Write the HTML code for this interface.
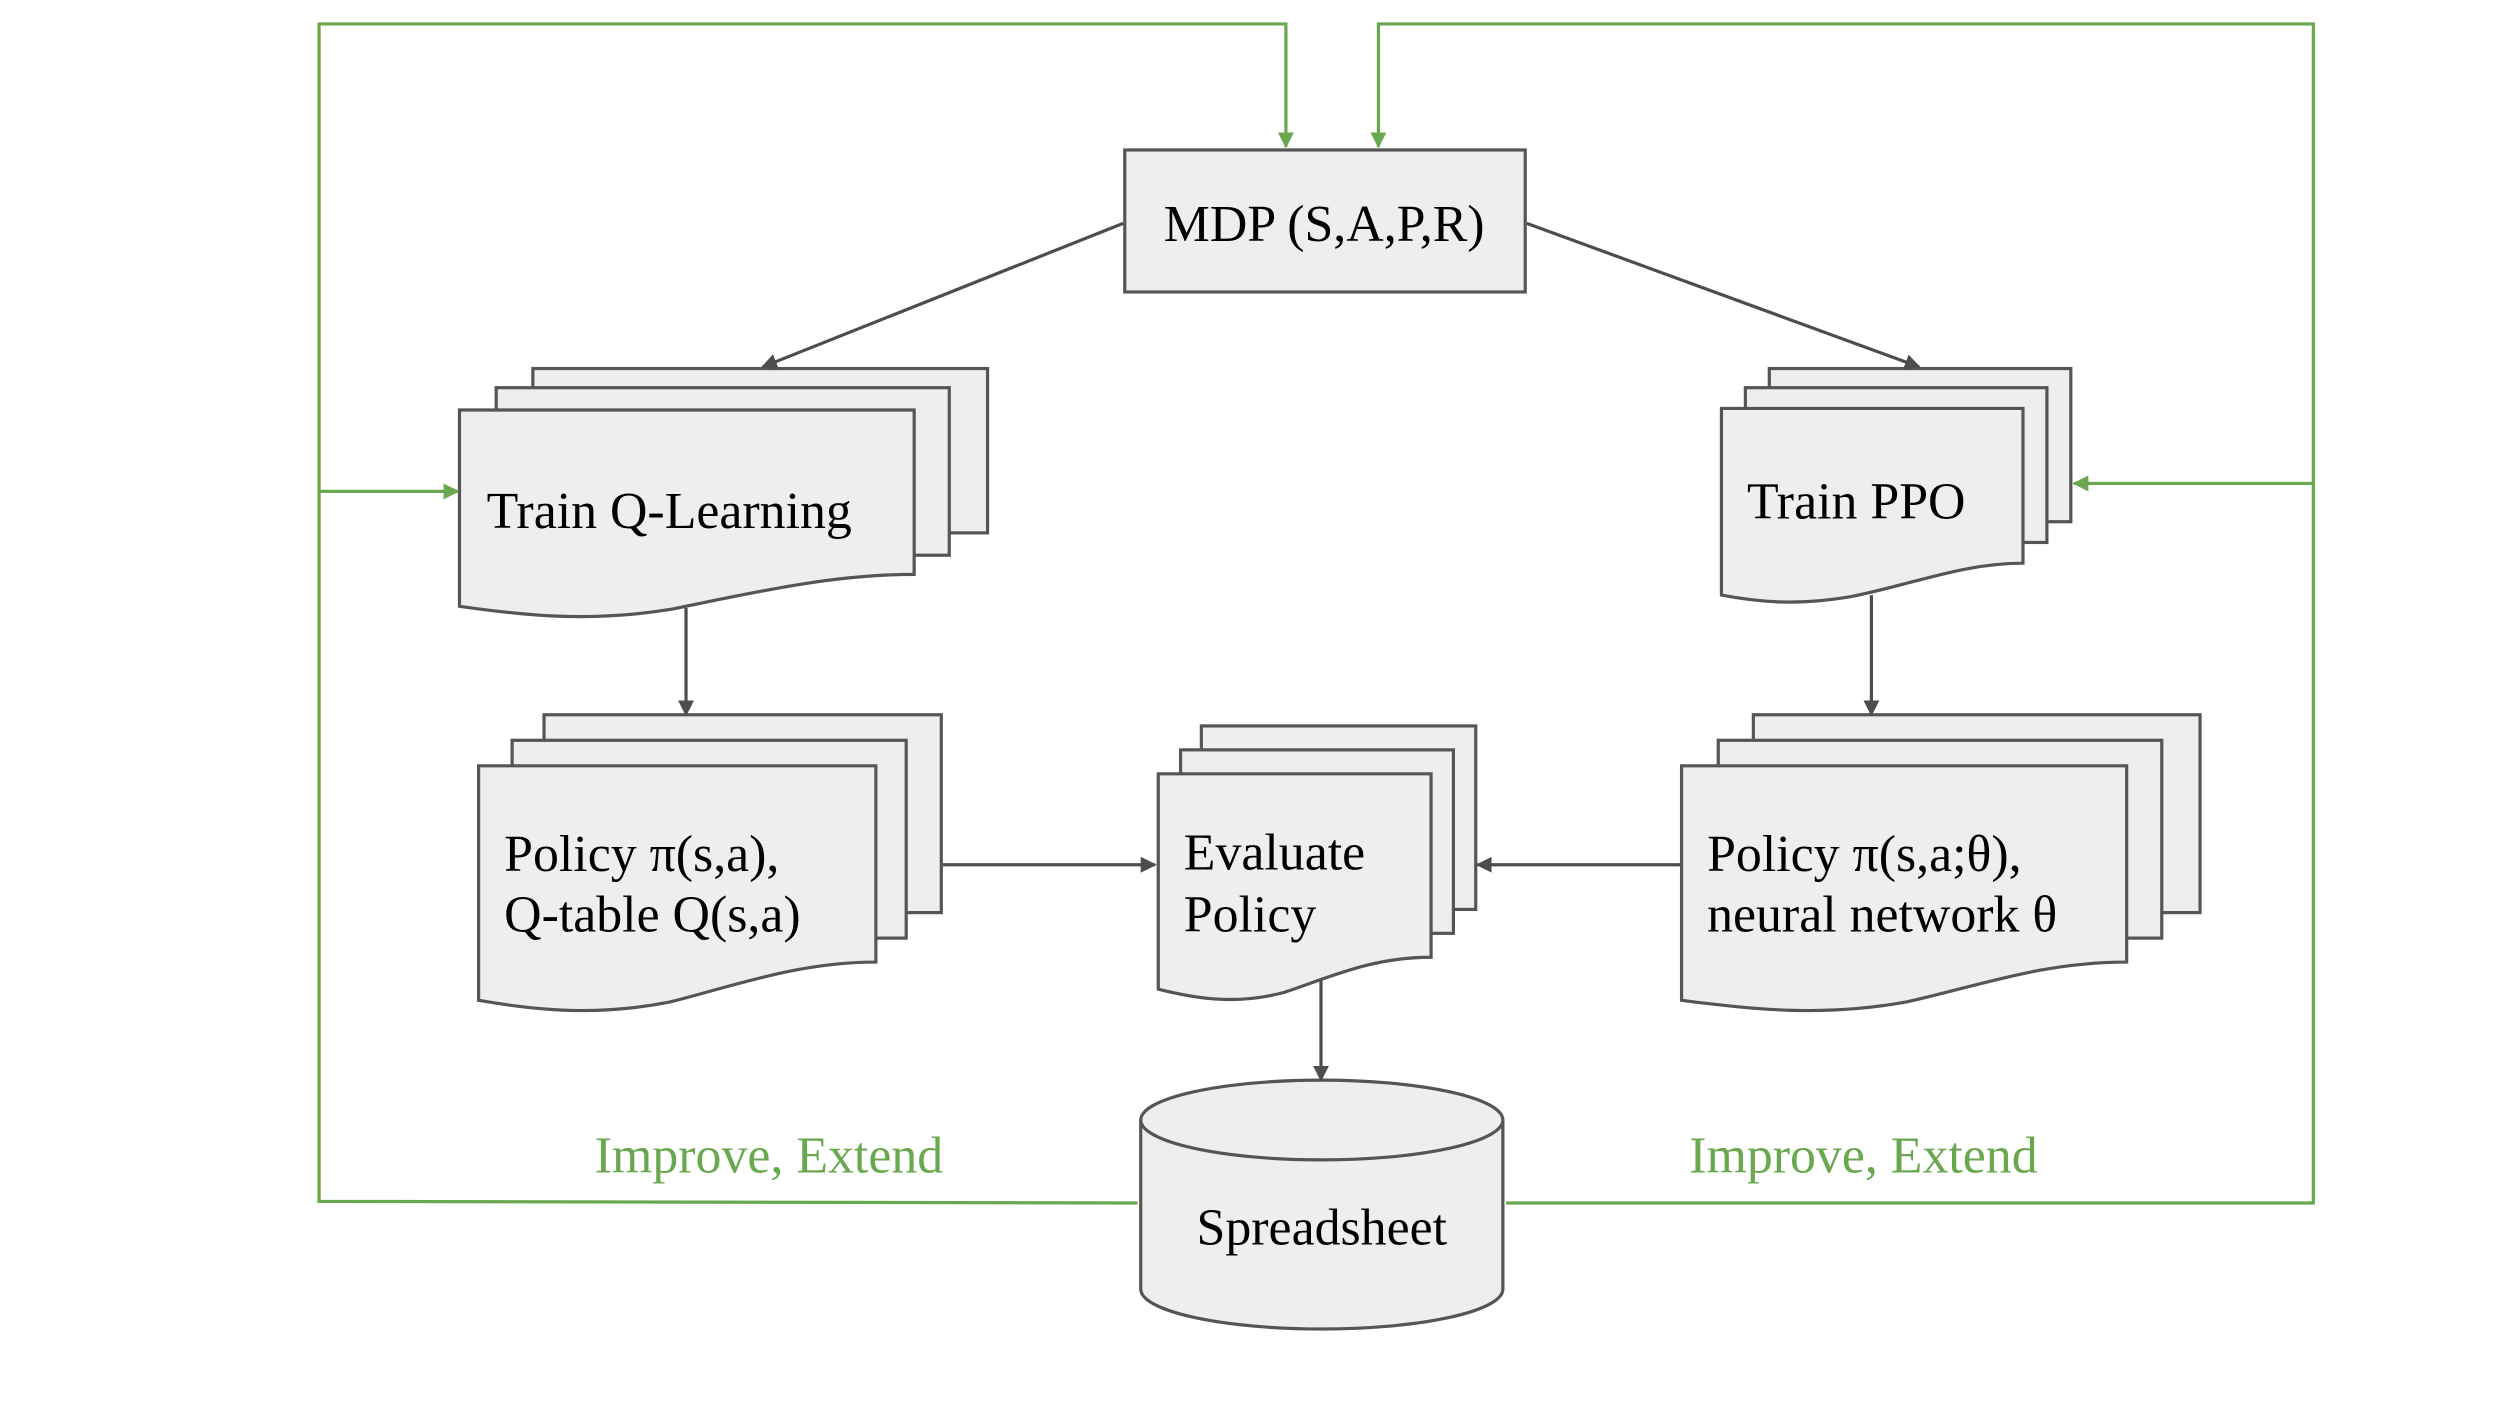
<!DOCTYPE html>
<html><head><meta charset="utf-8"><style>html,body{margin:0;padding:0;background:#fff}svg{display:block}</style></head><body>
<svg width="2500" height="1404" viewBox="0 0 1567 880" preserveAspectRatio="none" xmlns="http://www.w3.org/2000/svg" font-family="Liberation Serif, serif">
<defs>
<marker id="ag" markerWidth="10" markerHeight="10" refX="9" refY="5" orient="auto" markerUnits="userSpaceOnUse"><path d="M0,0 L10,5 L0,10 z" fill="#6aa84f"/></marker>
<marker id="ak" markerWidth="10" markerHeight="10" refX="9" refY="5" orient="auto" markerUnits="userSpaceOnUse"><path d="M0,0 L10,5 L0,10 z" fill="#4d4d4d"/></marker>
</defs>
<g fill="#eeeeee" stroke="#555" stroke-width="2">
<rect x="705" y="94" width="251" height="89"/>
<rect x="334" y="231" width="285" height="103"/>
<rect x="311" y="243" width="284" height="105"/>
<path d="M288,257 H573 V360 C520,360 470,372 420,382 C370,390 330,386 288,380 Z"/>
<rect x="1109" y="231" width="189" height="96"/>
<rect x="1094" y="243" width="189" height="97"/>
<path d="M1079,256 H1268 V353 C1230,353 1200,366 1160,374 C1125,380 1100,377 1079,373 Z"/>
<rect x="341" y="448" width="249" height="124"/>
<rect x="321" y="464" width="247" height="124"/>
<path d="M300,480 H549 V603 C500,603 460,618 420,628 C370,638 330,632 300,627 Z"/>
<rect x="753" y="455" width="172" height="115"/>
<rect x="740" y="470" width="171" height="115"/>
<path d="M726,485 H897 V600 C860,600 835,612 805,622 C775,630 750,626 726,620 Z"/>
<rect x="1099" y="448" width="280" height="124"/>
<rect x="1077" y="464" width="278" height="124"/>
<path d="M1054,480 H1333 V603 C1280,603 1240,618 1195,628 C1140,638 1095,632 1054,627 Z"/>
<path d="M715,702 V808 A113.5,25 0 0 0 942,808 V702"/>
<ellipse cx="828.5" cy="702" rx="113.5" ry="25"/>
</g>
<g stroke="#4d4d4d" stroke-width="2" fill="none" marker-end="url(#ak)">
<line x1="704" y1="140" x2="478" y2="230"/>
<line x1="957" y1="140" x2="1203" y2="230"/>
<line x1="430" y1="381" x2="430" y2="448"/>
<line x1="1173" y1="373" x2="1173" y2="448"/>
<line x1="591" y1="542" x2="724" y2="542"/>
<line x1="1054" y1="542" x2="926" y2="542"/>
<line x1="828" y1="614" x2="828" y2="677"/>
</g>
<g stroke="#6aa84f" stroke-width="2" fill="none">
<path d="M713,754 L200,753 V15 H806 V92" marker-end="url(#ag)"/>
<path d="M200,308 H287" marker-end="url(#ag)"/>
<path d="M944,754 H1450 V15 H864 V92" marker-end="url(#ag)"/>
<path d="M1450,303 H1300" marker-end="url(#ag)"/>
</g>
<g fill="#000" font-size="32.5">
<text x="830" y="151" text-anchor="middle">MDP (S,A,P,R)</text>
<text x="305" y="331">Train Q-Learning</text>
<text x="1095" y="325">Train PPO</text>
<text x="316" y="546">Policy π(s,a),</text>
<text x="316" y="584">Q-table Q(s,a)</text>
<text x="742" y="545">Evaluate</text>
<text x="742" y="584">Policy</text>
<text x="1070" y="546">Policy π(s,a;θ),</text>
<text x="1070" y="584">neural network θ</text>
<text x="828.5" y="780" text-anchor="middle">Spreadsheet</text>
</g>
<g fill="#6aa84f" font-size="32.5">
<text x="482" y="735" text-anchor="middle">Improve, Extend</text>
<text x="1168" y="735" text-anchor="middle">Improve, Extend</text>
</g>
</svg>
</body></html>
